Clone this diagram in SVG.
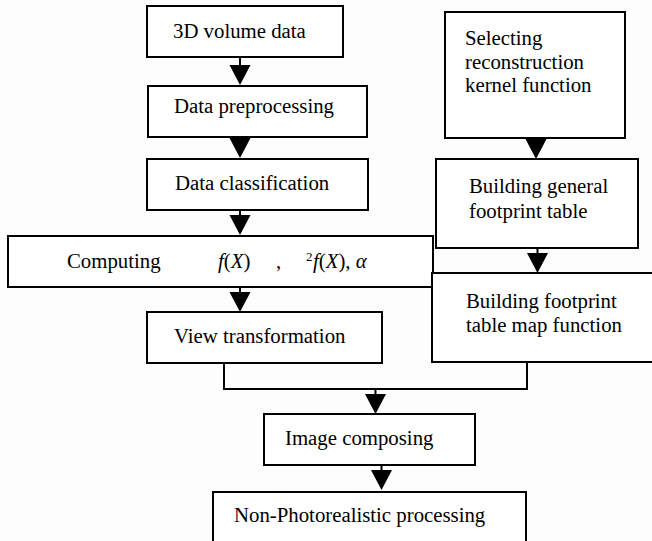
<svg xmlns="http://www.w3.org/2000/svg" width="652" height="541" viewBox="0 0 652 541">
<style>
.box{fill:#fff;stroke:#000;stroke-width:2}
.t{font-family:"Liberation Serif","Times New Roman",serif;font-size:20.8px;fill:#000}
.i{font-style:italic}
.c{fill:none;stroke:#000;stroke-width:2}
.h{fill:#000;stroke:none}
</style>
<defs>
<path id="ah" d="M-10.5,0 L10.5,0 L0,20 Z"/>
</defs>
<rect x="0" y="0" width="652" height="541" fill="#fdfdfd"/>
<g id="n1"><rect class="box" x="147" y="6" width="196" height="51"/><text class="t" x="173" y="38">3D volume data</text></g>
<g id="n2"><rect class="box" x="148" y="86" width="219" height="51"/><text class="t" x="174" y="113">Data preprocessing</text></g>
<g id="n3"><rect class="box" x="147" y="159" width="221" height="51"/><text class="t" x="175" y="190">Data classification</text></g>
<g id="n4"><rect class="box" x="8" y="236" width="425" height="51"/>
<text class="t" x="67" y="268">Computing</text>
<text class="t" x="218" y="268"><tspan class="i">f</tspan>(<tspan class="i">X</tspan>)</text>
<text class="t" x="276" y="268">,</text>
<text class="t" x="306" y="261" style="font-size:13px">2</text>
<text class="t" x="313" y="268"><tspan class="i">f</tspan>(<tspan class="i">X</tspan>), <tspan class="i">α</tspan></text>
</g>
<g id="n5"><rect class="box" x="147" y="312" width="235" height="51"/><text class="t" x="174" y="343">View transformation</text></g>
<g id="n6"><rect class="box" x="445" y="12" width="180" height="126"/><text class="t" x="465" y="45">Selecting</text><text class="t" x="465" y="68.5">reconstruction</text><text class="t" x="465" y="92">kernel function</text></g>
<g id="n7"><rect class="box" x="436" y="159" width="202" height="89"/><text class="t" x="469" y="193">Building general</text><text class="t" x="469" y="218">footprint table</text></g>
<g id="n8"><rect class="box" x="432" y="273" width="225" height="89"/><text class="t" x="466" y="308">Building footprint</text><text class="t" x="466" y="332">table map function</text></g>
<g id="n9"><rect class="box" x="264" y="414" width="211" height="51"/><text class="t" x="285" y="445">Image composing</text></g>
<g id="n10"><rect class="box" x="213" y="492" width="313" height="56"/><text class="t" x="234" y="522">Non-Photorealistic processing</text></g>
<g id="connectors">
<line class="c" x1="240" y1="57" x2="240" y2="66"/><use href="#ah" class="h" x="240" y="65"/>
<line class="c" x1="240" y1="137" x2="240" y2="140"/><use href="#ah" class="h" x="240" y="138"/>
<line class="c" x1="240" y1="210" x2="240" y2="216"/><use href="#ah" class="h" x="240" y="215"/>
<line class="c" x1="240" y1="287" x2="240" y2="293"/><use href="#ah" class="h" x="240" y="292"/>
<line class="c" x1="536" y1="138" x2="536" y2="141"/><use href="#ah" class="h" x="536" y="139"/>
<line class="c" x1="537.5" y1="248" x2="537.5" y2="254"/><use href="#ah" class="h" x="537.5" y="253"/>
<polyline class="c" points="224,363 224,389 527,389 527,362"/>
<line class="c" x1="375.5" y1="389" x2="375.5" y2="395"/><use href="#ah" class="h" x="375.5" y="394"/>
<line class="c" x1="381.5" y1="465" x2="381.5" y2="471"/><use href="#ah" class="h" x="381.5" y="470"/>
</g>
</svg>
